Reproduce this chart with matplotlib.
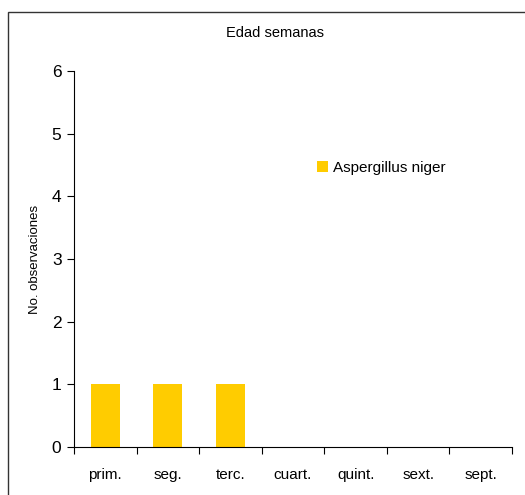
import matplotlib
matplotlib.use("Agg")
import matplotlib.pyplot as plt
from matplotlib.patches import Rectangle, Patch
import numpy as np

plt.rcParams['font.family'] = ['Liberation Sans', 'DejaVu Sans']

categories = ['prim.', 'seg.', 'terc.', 'cuart.', 'quint.', 'sext.', 'sept.']
aspergillus_niger = [1, 1, 1, 0, 0, 0, 0]

fig = plt.figure(figsize=(5.25, 4.95), dpi=100)
ax = fig.add_axes([74 / 525, 1 - 447 / 495, (512 - 74) / 525, (447 - 71) / 495])

# outer chart frame (cut off at right and bottom like the original)
fig.patches.append(Rectangle((8 / 525, -0.02), 1.0, 1 - 12 / 495 + 0.02,
                             transform=fig.transFigure, fill=False,
                             edgecolor='#333333', linewidth=1.0))

x = np.arange(len(categories))
ax.bar(x, aspergillus_niger, width=0.46, color='#FFCC00', zorder=2)

ax.set_xlim(-0.5, len(categories) - 0.5)
ax.set_ylim(0, 6)
ax.set_yticks(range(0, 7))
ax.tick_params(axis='y', labelsize=12.5, length=5, width=0.8, direction='out', pad=4)

# category labels centred, tick marks between categories
ax.set_xticks(x)
ax.set_xticklabels(categories, fontsize=11)
ax.tick_params(axis='x', which='major', length=0, pad=15)
ax.set_xticks(np.arange(-0.5, len(categories)), minor=True)
ax.tick_params(axis='x', which='minor', length=5, width=0.8, direction='out')

for side in ['top', 'right']:
    ax.spines[side].set_visible(False)
for side in ['left', 'bottom']:
    ax.spines[side].set_linewidth(0.8)

ax.set_ylabel('No. observaciones', fontsize=9.5, labelpad=8)
fig.text(275 / 525, 1 - 33 / 495, 'Edad semanas', ha='center', va='center', fontsize=10.5)

ax.legend(handles=[Patch(facecolor='#FFCC00', label='Aspergillus niger')],
          loc='center left', bbox_to_anchor=(0.54, 0.742), frameon=False,
          fontsize=11, handlelength=0.75, handleheight=0.75, handletextpad=0.3,
          borderaxespad=0)

fig.savefig('out.png', dpi=100)
